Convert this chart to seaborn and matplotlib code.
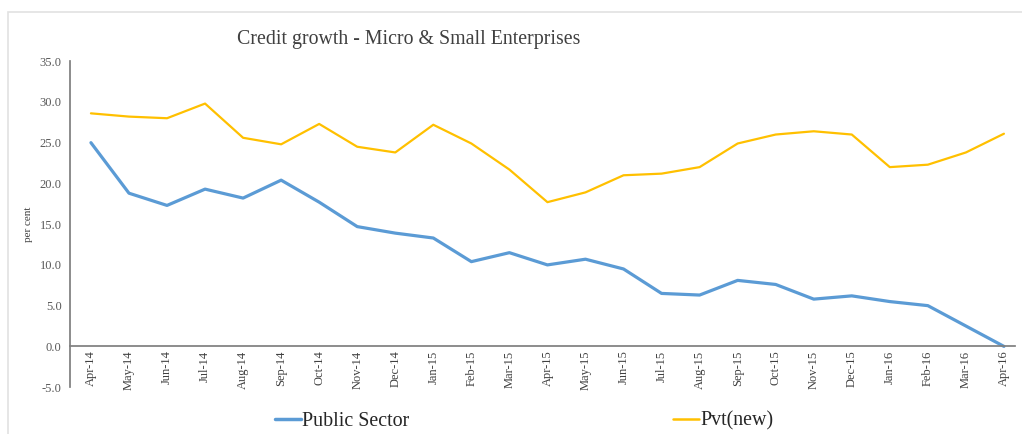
import pandas as pd
import matplotlib.pyplot as plt
import seaborn as sns
from matplotlib.lines import Line2D
from matplotlib.patches import Rectangle
from matplotlib.ticker import MultipleLocator, FixedLocator

months = ["Apr-14", "May-14", "Jun-14", "Jul-14", "Aug-14", "Sep-14", "Oct-14",
          "Nov-14", "Dec-14", "Jan-15", "Feb-15", "Mar-15", "Apr-15", "May-15",
          "Jun-15", "Jul-15", "Aug-15", "Sep-15", "Oct-15", "Nov-15", "Dec-15",
          "Jan-16", "Feb-16", "Mar-16", "Apr-16"]
public_sector = [25.0, 18.8, 17.3, 19.3, 18.2, 20.4, 17.7, 14.7, 13.9, 13.3,
                 10.4, 11.5, 10.0, 10.7, 9.5, 6.5, 6.3, 8.1, 7.6, 5.8, 6.2,
                 5.5, 5.0, 2.5, 0.0]
pvt_new = [28.6, 28.2, 28.0, 29.8, 25.6, 24.8, 27.3, 24.5, 23.8, 27.2, 24.9,
           21.7, 17.7, 18.9, 21.0, 21.2, 22.0, 24.9, 26.0, 26.4, 26.0, 22.0,
           22.3, 23.8, 26.1]

series_names = ["Public Sector", "Pvt(new)"]
colors = {"Public Sector": "#5B9BD5", "Pvt(new)": "#FFC000"}

sns.set_theme(style="white")
plt.rcParams['font.family'] = ['Liberation Serif', 'DejaVu Serif']

df = pd.DataFrame({"idx": range(len(months)),
                   "Public Sector": public_sector,
                   "Pvt(new)": pvt_new})
long = df.melt(id_vars="idx", var_name="series", value_name="value")

fig = plt.figure(figsize=(10.22, 4.34), dpi=100)
ax = fig.add_axes([0.0685, 0.108, 0.925, 0.751])

# cornice grigia chiara come nello screenshot
fig.patches.append(Rectangle((8 / 1022, -0.1), 1.2, (434 - 12) / 434 + 0.1,
                             transform=fig.transFigure, fill=False,
                             edgecolor="#e2e2e2", linewidth=1.2, zorder=0))

sns.lineplot(data=long, x="idx", y="value", hue="series", palette=colors,
             hue_order=series_names, ax=ax, legend=False, sort=False)
for line, lw in zip(ax.lines, [2.3, 1.6]):
    line.set_linewidth(lw)
    line.set_solid_joinstyle("round")

ax.set_xlim(-0.55, 24.3)
ax.set_ylim(-5, 35)
ax.yaxis.set_major_locator(MultipleLocator(5))
ax.set_yticklabels([f"{v:.1f}" for v in ax.get_yticks()])

for side in ["top", "right"]:
    ax.spines[side].set_visible(False)
ax.spines["left"].set_color("#7f7f7f")
ax.spines["bottom"].set_color("#7f7f7f")
ax.spines["bottom"].set_position(("data", 0))

ax.set_xticks(range(len(months)))
ax.set_xticklabels(months, rotation=90, fontsize=9, color="#404040")
ax.xaxis.set_minor_locator(FixedLocator([i + 0.5 for i in range(-1, len(months))]))
ax.tick_params(axis="x", which="major", length=0, pad=3)
ax.tick_params(axis="x", which="minor", length=3, color="#7f7f7f", direction="out")
ax.tick_params(axis="y", length=0, labelsize=9, labelcolor="#595959", pad=6)

ax.set_xlabel("")
ax.set_ylabel("per cent", fontsize=8, color="#404040")
ax.yaxis.set_label_coords(-0.039, 0.5)

fig.text(0.4, 0.908, "Credit growth - Micro & Small Enterprises",
         ha="center", va="center", fontsize=14.3, color="#404040")

handles = [Line2D([0], [0], color=colors["Public Sector"], lw=2.5),
           Line2D([0], [0], color=colors["Pvt(new)"], lw=1.8)]
fig.legend(handles, series_names, loc="center", bbox_to_anchor=(0.513, 0.03),
           ncol=2, frameon=False, fontsize=14.4, handlelength=1.3,
           handletextpad=0.05, columnspacing=13.2)

fig.savefig("out.png", dpi=100)
